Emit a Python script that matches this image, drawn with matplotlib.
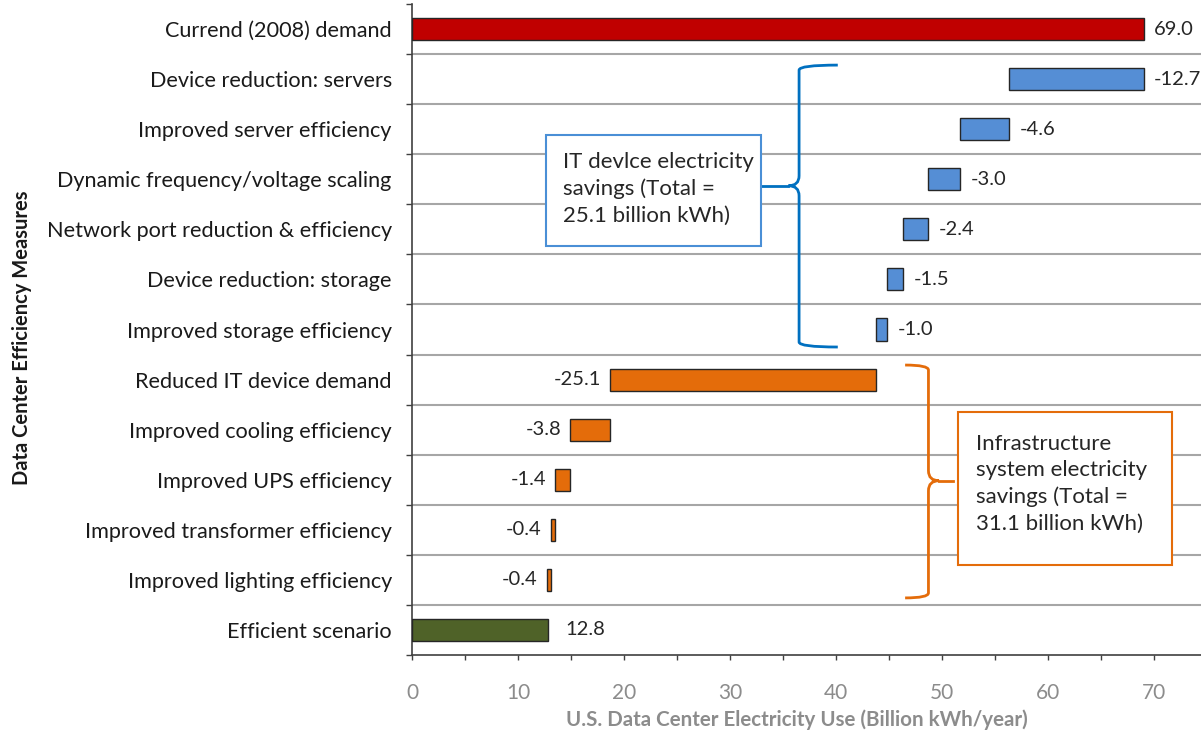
import matplotlib
matplotlib.use("Agg")
import matplotlib.pyplot as plt
from matplotlib.path import Path
from matplotlib.patches import PathPatch, Rectangle
import numpy as np

plt.rcParams['font.family'] = ['Lato', 'DejaVu Sans']

categories = ["Currend (2008) demand", "Device reduction: servers", "Improved server efficiency",
              "Dynamic frequency/voltage scaling", "Network port reduction & efficiency",
              "Device reduction: storage", "Improved storage efficiency", "Reduced IT device demand",
              "Improved cooling efficiency", "Improved UPS efficiency", "Improved transformer efficiency",
              "Improved lighting efficiency", "Efficient scenario"]
values = [69.0, -12.7, -4.6, -3.0, -2.4, -1.5, -1.0, -25.1, -3.8, -1.4, -0.4, -0.4, 12.8]
groups = ["total", "it", "it", "it", "it", "it", "it", "infra", "infra", "infra", "infra", "infra", "final"]
group_colors = {"total": "#C00000", "it": "#558ED5", "infra": "#E46C0A", "final": "#4F6228"}
label_side = {"total": "right", "it": "right", "infra": "left", "final": "right"}
x_ticks = [0, 10, 20, 30, 40, 50, 60, 70]

fig = plt.figure(figsize=(12.01, 7.40), dpi=100)
ax = fig.add_axes([412/1201, 1 - 655/740, 1 - 412/1201, (655 - 4)/740])

ypos = np.arange(len(categories))
running = 0.0
for i, (v, g) in enumerate(zip(values, groups)):
    if g in ("total", "final"):
        left, width = 0.0, v
        running = v
    else:
        left, width = running + v, -v
        running = running + v
    ax.barh(i, width, left=left, height=0.44, color=group_colors[g],
            edgecolor="#262626", linewidth=1.0, zorder=3)
    txt = f"{v:.1f}"
    if label_side[g] == "right":
        off = 18 if g == "final" else 10.5
        ax.annotate(txt, (left + width, i), xytext=(off * 0.72, 0), textcoords="offset points",
                    ha="left", va="center", fontsize=14.5, color="#262626")
    else:
        ax.annotate(txt, (left, i), xytext=(-9 * 0.72, 0), textcoords="offset points",
                    ha="right", va="center", fontsize=14.5, color="#262626")

ax.set_xlim(0, 74.4)
ax.set_ylim(len(categories) - 0.5, -0.5)

# horizontal gridlines at category boundaries
for b in np.arange(0.5, len(categories) - 0.5, 1.0):
    ax.axhline(b, color="#A6A6A6", linewidth=1.5, zorder=1)

ax.set_yticks(ypos)
ax.set_yticklabels(categories, fontsize=15.6, color="#1a1a1a")
ax.set_yticks(np.arange(-0.5, len(categories) + 0.5, 1.0), minor=True)
ax.tick_params(axis="y", which="major", length=0, pad=14.5)
ax.tick_params(axis="y", which="minor", length=4.5, width=1, color="#404040")

ax.set_xticks(x_ticks)
ax.set_xticks(np.arange(5, 75, 10), minor=True)
ax.set_xticklabels([str(t) for t in x_ticks], fontsize=15, color="#8C8C8C")
ax.tick_params(axis="x", which="both", length=3.5, width=1, color="#404040", direction="out")
ax.tick_params(axis="x", which="major", pad=17)

for s in ("top", "right"):
    ax.spines[s].set_visible(False)
ax.spines["left"].set_color("#404040")
ax.spines["bottom"].set_color("#404040")
ax.spines["left"].set_linewidth(1.2)
ax.spines["bottom"].set_linewidth(1.2)

fig.text(797/1201, 1 - 720/740, "U.S. Data Center Electricity Use (Billion kWh/year)",
         ha="center", va="center", fontsize=14.8, color="#8C8C8C", fontweight="bold")
fig.text(22/1201, 1 - 338/740, "Data Center Efficiency Measures", rotation=90,
         ha="center", va="center", fontsize=14.5, fontweight="bold", color="#1a1a1a")


def brace(ax, x_v, x_end, y_top, y_bot, y_mid, x_tip, color, ry=0.1, tw=1.0, tr=0.2):
    d = 1 if x_end > x_v else -1  # direction of ends
    verts = [
        (x_end, y_top), (x_v, y_top), (x_v, y_top + ry),
        (x_v, y_mid - tr), (x_v, y_mid), (x_v - d * tw, y_mid),
        (x_v, y_mid), (x_v, y_mid + tr),
        (x_v, y_bot - ry), (x_v, y_bot), (x_end, y_bot),
    ]
    codes = [Path.MOVETO, Path.CURVE3, Path.CURVE3,
             Path.LINETO, Path.CURVE3, Path.CURVE3,
             Path.CURVE3, Path.CURVE3,
             Path.LINETO, Path.CURVE3, Path.CURVE3]
    ax.add_patch(PathPatch(Path(verts, codes), facecolor="none", edgecolor=color, lw=2, zorder=4,
                           clip_on=False))
    ax.plot([x_v - d * tw, x_tip], [y_mid, y_mid], color=color, lw=2, zorder=4)


blue = "#0070C0"
orange = "#E46C0A"
brace(ax, 36.5, 40.15, 0.72, 6.35, 3.13, 32.9, blue)
ax.add_patch(Rectangle((12.6, 2.12), 32.9 - 12.6, 4.33 - 2.12, facecolor="white",
                       edgecolor="#4A8FD6", lw=1.5, zorder=5))
ax.text(14.2, 3.19, "IT devlce electricity\nsavings (Total =\n25.1 billion kWh)", fontsize=16,
        color="#262626", ha="left", va="center", linespacing=1.4, zorder=6)

brace(ax, 48.7, 46.5, 6.71, 11.36, 9.02, 51.0, orange)
ax.add_patch(Rectangle((51.5, 7.64), 71.7 - 51.5, 10.70 - 7.64, facecolor="white",
                       edgecolor=orange, lw=1.5, zorder=5))
ax.text(53.2, 9.08, "Infrastructure\nsystem electricity\nsavings (Total =\n31.1 billion kWh)",
        fontsize=16, color="#262626", ha="left", va="center", linespacing=1.4, zorder=6)

fig.savefig("out.png", dpi=100)
